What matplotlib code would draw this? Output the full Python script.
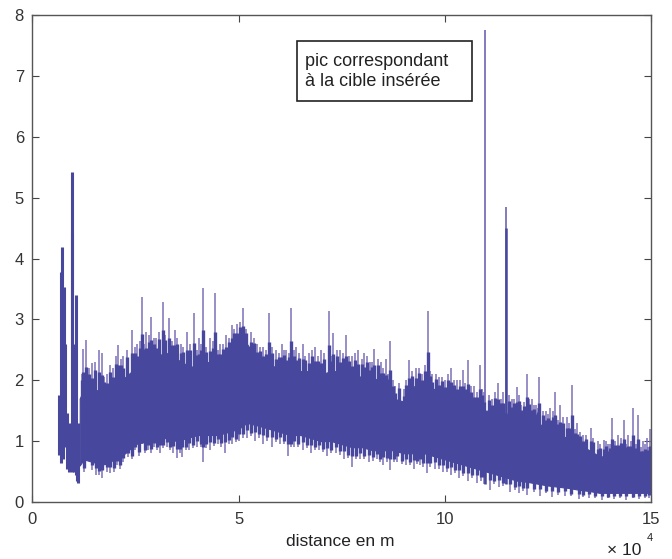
import numpy as np
import matplotlib
matplotlib.use("Agg")
import matplotlib.pyplot as plt
from matplotlib.patches import Rectangle

# distance in units of 1e4 m; amplitude
# dense band of the signal (upper / lower edge of the filled part)
core_x = [1.15, 1.25, 1.5, 1.75, 2.0, 2.25, 2.5, 2.75, 3.0, 3.25, 3.5, 3.75, 4.0, 4.25,
          4.5, 4.75, 5.0, 5.2, 5.5, 5.75, 6.0, 6.25, 6.5, 6.75, 7.0, 7.25, 7.5, 7.75,
          8.0, 8.25, 8.5, 8.75, 9.0, 9.25, 9.5, 9.75, 10.0, 10.25, 10.5, 10.75, 11.0,
          11.25, 11.5, 11.75, 12.0, 12.25, 12.5, 12.75, 13.0, 13.25, 13.5, 13.75, 14.0,
          14.25, 14.5, 14.75, 15.0]
core_hi = [1.7, 1.85, 1.85, 1.8, 1.95, 2.05, 2.2, 2.3, 2.4, 2.45, 2.35, 2.25, 2.2, 2.3,
           2.25, 2.4, 2.7, 2.6, 2.3, 2.25, 2.2, 2.2, 2.15, 2.15, 2.1, 2.15, 2.15, 2.1,
           2.05, 2.05, 1.95, 1.7, 1.65, 1.9, 1.95, 1.85, 1.8, 1.75, 1.65, 1.55, 1.5,
           1.5, 1.45, 1.45, 1.4, 1.3, 1.2, 1.1, 1.05, 0.95, 0.85, 0.75, 0.75,
           0.8, 0.75, 0.7, 0.7]
core_lo = [0.6, 0.7, 0.65, 0.62, 0.7, 0.8, 0.95, 1.0, 1.05, 1.05, 1.0, 1.05, 1.1, 1.1,
           1.1, 1.15, 1.2, 1.3, 1.25, 1.2, 1.15, 1.1, 1.1, 1.05, 1.0, 1.0, 0.95, 0.9,
           0.9, 0.85, 0.85, 0.85, 0.8, 0.8, 0.8, 0.75, 0.7, 0.65, 0.6, 0.55, 0.5,
           0.45, 0.4, 0.35, 0.33, 0.3, 0.27, 0.25, 0.23, 0.2, 0.18, 0.15, 0.15,
           0.15, 0.15, 0.15, 0.15]

# first echoes near the start of the record (x, low, high)
early_x = [0.66, 0.70, 0.71, 0.75, 0.78, 0.80, 0.84, 0.88, 0.92, 0.96, 0.965, 1.0, 1.05, 1.09, 1.12]
early_lo = [0.77, 0.64, 1.2, 0.7, 1.5, 0.9, 0.55, 0.5, 0.55, 0.5, 2.0, 0.5, 0.45, 0.35, 0.31]
early_hi = [1.76, 3.78, 4.19, 3.2, 3.54, 2.6, 1.46, 1.2, 1.3, 4.42, 5.42, 2.6, 3.4, 1.1, 1.3]

# tall upward spikes above the band
up_x = [1.24, 1.31, 1.45, 1.61, 1.69, 1.8, 1.95, 2.08, 2.2, 2.42, 2.55, 2.66, 2.76, 2.88,
        3.0, 3.16, 3.32, 3.45, 3.6, 3.75, 3.93, 4.05, 4.15, 4.3, 4.43, 4.55, 4.7, 4.85,
        4.97, 5.1, 5.3, 5.45, 5.6, 5.73, 5.9, 6.05, 6.15, 6.28, 6.4, 6.55, 6.7, 6.85,
        7.0, 7.18, 7.29, 7.45, 7.6, 7.75, 7.9, 8.05, 8.18, 8.29, 8.45, 8.57, 8.67, 8.8,
        9.0, 9.14, 9.3, 9.45, 9.58, 9.7, 9.85, 10.0, 10.15, 10.3, 10.43, 10.57, 10.7,
        10.85, 10.95, 11.15, 11.29, 11.4, 11.62, 11.74, 11.85, 11.98, 12.1, 12.2, 12.29,
        12.45, 12.55, 12.67, 12.8, 12.95, 13.09, 13.2, 13.35, 13.55, 13.7, 13.86, 13.95,
        14.05, 14.2, 14.33, 14.45, 14.57, 14.69, 14.8, 14.89, 14.97]
up_top = [2.52, 2.66, 2.28, 2.5, 2.44, 2.1, 2.2, 2.58, 2.4, 2.82, 2.6, 3.37, 2.8, 3.04,
          2.7, 3.29, 3.02, 2.82, 2.6, 2.8, 3.1, 2.7, 3.51, 2.7, 3.43, 2.6, 2.75, 2.9,
          2.93, 3.18, 2.8, 2.6, 2.55, 3.1, 2.5, 2.6, 2.5, 3.18, 2.55, 2.6, 2.45, 2.55,
          2.5, 3.13, 2.77, 2.5, 2.74, 2.4, 2.5, 2.44, 2.3, 2.52, 2.3, 2.35, 2.65, 1.9,
          1.85, 2.33, 2.2, 2.1, 3.14, 2.1, 2.05, 2.0, 2.2, 2.0, 2.17, 2.33, 1.9,
          2.25, 1.8, 1.7, 1.95, 1.8, 1.7, 1.89, 1.6, 2.11, 1.7, 1.6, 2.05,
          1.5, 1.55, 1.8, 1.6, 1.4, 1.93, 1.3, 1.1, 1.21, 1.0, 1.02, 0.95,
          1.38, 1.1, 1.35, 1.1, 1.54, 1.43, 1.0, 1.05, 1.2]

# smaller upward spikes between the tall ones
up2_x = [1.2, 1.37, 1.53, 1.75, 1.88, 2.02, 2.14, 2.3, 2.48, 2.6, 2.72, 2.82, 2.94, 3.08,
         3.22, 3.38, 3.52, 3.66, 3.82, 3.99, 4.1, 4.22, 4.37, 4.49, 4.62, 4.78, 4.9, 5.04,
         5.18, 5.37, 5.52, 5.67, 5.82, 5.98, 6.1, 6.22, 6.34, 6.47, 6.62, 6.77, 6.92, 7.08,
         7.23, 7.38, 7.52, 7.68, 7.83, 7.98, 8.11, 8.24, 8.37, 8.51, 8.62, 8.74, 8.88, 9.07,
         9.21, 9.37, 9.52, 9.64, 9.78, 9.92, 10.07, 10.22, 10.36, 10.5, 10.63, 10.77, 10.9,
         11.06, 11.22, 11.35, 11.56, 11.68, 11.8, 11.92, 12.04, 12.15, 12.25, 12.38, 12.5,
         12.61, 12.74, 12.87, 13.02, 13.15, 13.27, 13.42, 13.6, 13.77, 13.9, 14.0, 14.12,
         14.26, 14.39, 14.51, 14.63, 14.75, 14.85, 14.93]
up2_top = [2.1, 2.2, 2.3, 2.05, 2.25, 2.4, 2.35, 2.5, 2.55, 2.65, 2.6, 2.75, 2.7, 2.8,
           2.75, 2.65, 2.7, 2.55, 2.6, 2.5, 2.6, 2.55, 2.65, 2.5, 2.6, 2.7, 2.85, 2.95,
           2.85, 2.7, 2.55, 2.5, 2.55, 2.45, 2.5, 2.45, 2.5, 2.45, 2.4, 2.5, 2.4, 2.45,
           2.4, 2.5, 2.45, 2.4, 2.45, 2.35, 2.4, 2.3, 2.35, 2.2, 2.1, 2.0, 1.95, 2.0,
           2.15, 2.2, 2.25, 2.15, 2.1, 2.05, 2.1, 2.0, 2.0, 1.95, 1.9, 1.8, 1.85,
           1.75, 1.8, 1.7, 1.75, 1.7, 1.75, 1.65, 1.7, 1.6, 1.55, 1.5, 1.45,
           1.5, 1.35, 1.4, 1.3, 1.2, 1.15, 1.1, 1.05, 0.95, 1.0, 0.95, 1.0,
           1.05, 0.95, 1.0, 0.95, 0.9, 0.95, 0.9]

# downward spikes below the band
dn_x = [1.45, 1.55, 1.69, 1.8, 1.89, 2.05, 2.2, 2.33, 2.5, 2.66, 2.8, 2.95, 3.1, 3.26,
        3.4, 3.5, 3.63, 3.8, 4.0, 4.15, 4.3, 4.5, 4.67, 4.85, 5.0, 5.2, 5.4, 5.6, 5.8,
        6.0, 6.19, 6.35, 6.55, 6.75, 6.95, 7.15, 7.35, 7.55, 7.76, 7.95, 8.15, 8.35,
        8.5, 8.67, 8.85, 9.05, 9.25, 9.4, 9.56, 9.75, 9.95, 10.15, 10.35, 10.55, 10.78,
        10.95, 11.09, 11.3, 11.58, 11.8, 12.0, 12.3, 12.6, 12.9, 13.24, 13.5, 13.8,
        14.1, 14.4, 14.7, 14.95]
dn_bot = [0.53, 0.45, 0.39, 0.5, 0.47, 0.6, 0.65, 0.74, 0.85, 0.96, 0.85, 0.9, 0.8, 0.91,
          0.8, 0.72, 0.74, 0.85, 0.9, 0.66, 0.85, 0.95, 0.8, 0.95, 1.0, 1.05, 1.0, 0.95, 0.9,
          0.95, 0.75, 0.9, 0.85, 0.8, 0.85, 0.75, 0.8, 0.7, 0.58, 0.7, 0.65, 0.7,
          0.6, 0.53, 0.65, 0.6, 0.55, 0.6, 0.47, 0.55, 0.5, 0.45, 0.4, 0.35, 0.31,
          0.3, 0.2, 0.25, 0.17, 0.15, 0.12, 0.1, 0.08, 0.1, 0.05, 0.06, 0.03,
          0.05, 0.04, 0.05, 0.06]

dn2_x = [1.25, 1.62, 1.97, 2.13, 2.42, 2.58, 2.73, 2.88, 3.03, 3.18, 3.33, 3.57, 3.72, 3.9,
         4.08, 4.22, 4.4, 4.58, 4.76, 4.93, 5.1, 5.3, 5.5, 5.7, 5.9, 6.1, 6.27, 6.45, 6.65,
         6.85, 7.05, 7.25, 7.45, 7.65, 7.85, 8.05, 8.25, 8.42, 8.6, 8.77, 8.95, 9.15, 9.32,
         9.48, 9.65, 9.85, 10.05, 10.25, 10.45, 10.65, 10.87, 11.2, 11.42, 11.7, 11.9,
         12.15, 12.45, 12.75, 13.05, 13.35, 13.65, 13.95, 14.25, 14.55, 14.85]
dn2_bot = [0.5, 0.45, 0.5, 0.55, 0.7, 0.75, 0.8, 0.8, 0.85, 0.88, 0.85, 0.8, 0.85, 0.88,
           0.9, 0.88, 0.92, 0.9, 0.95, 0.98, 1.05, 1.08, 1.05, 1.0, 0.98, 0.95, 0.9, 0.9, 0.88,
           0.85, 0.82, 0.8, 0.78, 0.72, 0.7, 0.7, 0.68, 0.65, 0.66, 0.65, 0.62, 0.6, 0.62,
           0.58, 0.58, 0.55, 0.5, 0.47, 0.42, 0.4, 0.35, 0.3, 0.26, 0.2, 0.18,
           0.17, 0.14, 0.12, 0.1, 0.08, 0.07, 0.06, 0.07, 0.06, 0.07]

# echo of the inserted target
peak_x = [10.98, 11.48]
peak_top = [7.75, 4.85]
peak_core = [1.5, 4.5]

band_color = '#46479d'
tip_color = '#7a70b8'

fig = plt.figure(figsize=(6.72, 5.59), dpi=100)
ax = fig.add_axes([0.048, 0.102, 0.921, 0.871])


def spikes(xs, ends, edge, dark_frac, inset):
    xs = np.asarray(xs)
    ends = np.asarray(ends)
    base = np.interp(xs, core_x, edge)
    mid = base + dark_frac * (ends - base)
    # start a little inside the band so no seam shows at its edge
    ax.vlines(xs, base + inset, ends, color=tip_color, linewidth=1.1, zorder=2)
    ax.vlines(xs, base + inset, mid, color=band_color, linewidth=2.4, zorder=4)


ax.fill_between(core_x, core_lo, core_hi, color=band_color, linewidth=0.8,
                edgecolor=band_color, zorder=3)
spikes(up_x, up_top, core_hi, 0.45, -0.15)
spikes(up2_x, up2_top, core_hi, 0.7, -0.15)
spikes(dn_x, dn_bot, core_lo, 0.45, 0.15)
spikes(dn2_x, dn2_bot, core_lo, 0.7, 0.15)
ax.vlines(early_x, early_lo, early_hi, color=band_color, linewidth=2.2, zorder=4)
ax.vlines(peak_x, 0.3, peak_top, color=tip_color, linewidth=1.3, zorder=2)
ax.vlines(peak_x, 0.3, peak_core, color=band_color, linewidth=1.8, zorder=4)

ax.set_xlim(0, 15)
ax.set_ylim(0, 8)
ax.set_xticks([0, 5, 10, 15])
ax.set_yticks(range(9))
ax.tick_params(direction='in', length=5, top=True, right=True, labelsize=12,
               color='#444444', labelcolor='#333333')
ax.tick_params(axis='x', pad=7)
ax.tick_params(axis='y', pad=6)
for s in ax.spines.values():
    s.set_color('#555555')
    s.set_linewidth(1.0)
    s.set_zorder(6)
for lab in ax.get_xticklabels() + ax.get_yticklabels():
    lab.set_family('Liberation Sans')

ax.add_patch(Rectangle((6.42, 6.59), 4.24, 0.98, fc='white', ec='#222222', lw=1.2, zorder=5))
ax.text(6.62, 7.07, "pic correspondant\nà la cible insérée", fontsize=13,
        family='Liberation Sans', va='center', ha='left', linespacing=1.2,
        color='#222222', zorder=6)

fig.text(0.506, 0.032, "distance en m", ha='center', va='center', fontsize=12.5,
         family='Liberation Sans', color='#222222')
fig.text(0.903, 0.016, "× 10", ha='left', va='center', fontsize=12.5,
         family='Liberation Sans', color='#222222')
fig.text(0.962, 0.038, "4", ha='left', va='center', fontsize=8,
         family='Liberation Sans', color='#222222')

fig.savefig('out.png', dpi=100, facecolor='white')
